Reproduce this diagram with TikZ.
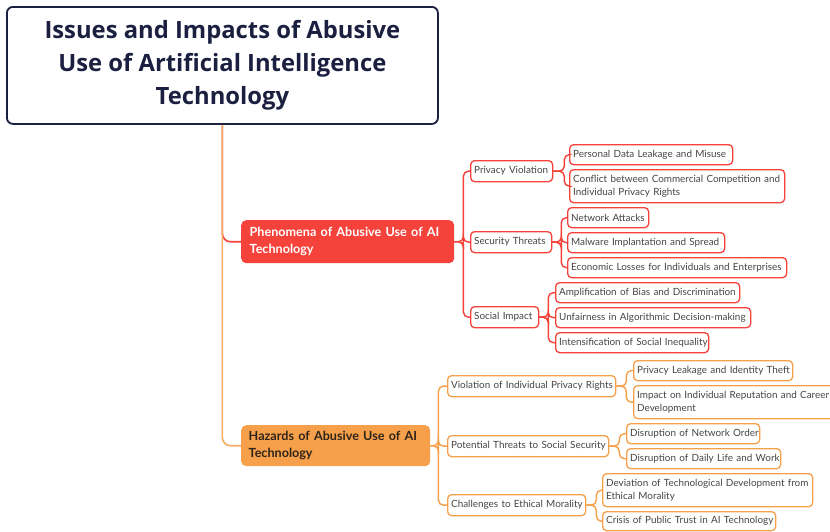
\documentclass[tikz,border=0pt]{standalone}
\usepackage{fontspec}
\setmainfont{Lato}
\newfontfamily\rootfont{Open Sans}
\definecolor{rootc}{HTML}{1C2040}
\definecolor{redc}{HTML}{F5423B}
\definecolor{orgc}{HTML}{F6A04B}
\definecolor{trunkc}{HTML}{F8AC66}
\definecolor{txtc}{HTML}{4A4444}
\definecolor{haztxt}{HTML}{2E2418}
\newcommand{\oneline}[1]{\mbox{#1}}
\tikzset{
  leaf/.style={draw, rounded corners=4pt, line width=1.3pt, fill=white, inner xsep=3.5pt, inner ysep=0pt,
    font=\fontsize{9.9}{13}\selectfont, text=txtc, align=left, anchor=north west},
  rleaf/.style={leaf, draw=redc},
  oleaf/.style={leaf, draw=orgc},
  rcon/.style={draw=redc, line width=1.4pt, rounded corners=5pt},
  ocon/.style={draw=orgc, line width=1.4pt, rounded corners=5pt},
}
\begin{document}
\begin{tikzpicture}[x=1pt,y=-1pt]
\useasboundingbox (0,0) rectangle (830,531);
\fill[white] (0,0) rectangle (830,531);
% root
\node[draw=rootc, line width=1.8pt, rounded corners=6pt, minimum width=431pt, minimum height=117pt,
  anchor=north west, align=center, font=\rootfont\bfseries\fontsize{23.8}{33}\selectfont, text=rootc, inner sep=0pt]
  (root) at (6,6) {Issues and Impacts of Abusive\\Use of Artificial Intelligence\\Technology};
% main branches
\node[fill=redc, rounded corners=5pt, minimum width=213pt, minimum height=43pt, anchor=north west,
  text width=196pt, align=left, inner xsep=8.5pt, inner ysep=0pt, text=white,
  font=\bfseries\fontsize{12.6}{17}\selectfont] (phen) at (241,220) {Phenomena of Abusive Use of AI\\Technology};
\node[fill=orgc, rounded corners=5pt, minimum width=189pt, minimum height=41pt, anchor=north west,
  text width=174pt, align=left, inner xsep=7.5pt, inner ysep=0pt, text=haztxt,
  font=\bfseries\fontsize{12.6}{17}\selectfont] (haz) at (241,425) {Hazards of Abusive Use of AI\\Technology};
\draw[draw=redc, line width=1.6pt, rounded corners=8pt] (root.south) |- (phen.west);
\draw[draw=trunkc, line width=1.6pt, rounded corners=8pt] (root.south) |- (haz.west);
% level 2 red
\node[rleaf, minimum height=21pt, text width=75pt] (pv) at (470,160) {\oneline{Privacy Violation}};
\node[rleaf, minimum height=21pt, text width=74pt] (st) at (470,231) {\oneline{Security Threats}};
\node[rleaf, minimum height=21pt, text width=61pt] (si) at (470,306) {\oneline{Social Impact}};
% level 3 red
\node[rleaf, minimum height=20pt, text width=156pt] (l1) at (569,144) {\oneline{Personal Data Leakage and Misuse}};
\node[rleaf, minimum height=33pt, text width=208pt] (l2) at (569,169) {\oneline{Conflict between Commercial Competition and}\\\oneline{Individual Privacy Rights}};
\node[rleaf, minimum height=20pt, text width=74pt] (l3) at (567,207) {\oneline{Network Attacks}};
\node[rleaf, minimum height=20pt, text width=150pt] (l4) at (567,232) {\oneline{Malware Implantation and Spread}};
\node[rleaf, minimum height=20pt, text width=212pt] (l5) at (567,257) {\oneline{Economic Losses for Individuals and Enterprises}};
\node[rleaf, minimum height=20pt, text width=177pt] (l6) at (555,282) {\oneline{Amplification of Bias and Discrimination}};
\node[rleaf, minimum height=20pt, text width=188pt] (l7) at (555,307) {\oneline{Unfairness in Algorithmic Decision-making}};
\node[rleaf, minimum height=20pt, text width=146pt] (l8) at (555,332) {\oneline{Intensification of Social Inequality}};
% level 2 orange
\node[oleaf, minimum height=21pt, text width=161pt] (vp) at (447,375) {\oneline{Violation of Individual Privacy Rights}};
\node[oleaf, minimum height=21pt, text width=154pt] (pt) at (447,435) {\oneline{Potential Threats to Social Security}};
\node[oleaf, minimum height=21pt, text width=131pt] (ce) at (447,494) {\oneline{Challenges to Ethical Morality}};
% level 3 orange
\node[oleaf, minimum height=20pt, text width=152pt] (o1) at (633,360) {\oneline{Privacy Leakage and Identity Theft}};
\node[oleaf, minimum height=33pt, text width=201pt] (o2) at (633,385) {\oneline{Impact on Individual Reputation and Career}\\\oneline{Development}};
\node[oleaf, minimum height=20pt, text width=126pt] (o3) at (626,423) {\oneline{Disruption of Network Order}};
\node[oleaf, minimum height=20pt, text width=147pt] (o4) at (626,448) {\oneline{Disruption of Daily Life and Work}};
\node[oleaf, minimum height=33pt, text width=203pt] (o5) at (602,473) {\oneline{Deviation of Technological Development from}\\\oneline{Ethical Morality}};
\node[oleaf, minimum height=19pt, text width=166pt] (o6) at (602,511) {\oneline{Crisis of Public Trust in AI Technology}};
% connectors red
\foreach \c in {pv,st,si} \draw[rcon] (phen.east) -- ++(9,0) |- (\c.west);
\foreach \c in {l1,l2} \draw[rcon] (pv.east) -- ++(11,0) |- (\c.west);
\foreach \c in {l3,l4,l5} \draw[rcon] (st.east) -- ++(9,0) |- (\c.west);
\foreach \c in {l6,l7,l8} \draw[rcon] (si.east) -- ++(9,0) |- (\c.west);
% connectors orange
\foreach \c in {vp,pt,ce} \draw[ocon] (haz.east) -- ++(8,0) |- (\c.west);
\foreach \c in {o1,o2} \draw[ocon] (vp.east) -- ++(10,0) |- (\c.west);
\foreach \c in {o3,o4} \draw[ocon] (pt.east) -- ++(10,0) |- (\c.west);
\foreach \c in {o5,o6} \draw[ocon] (ce.east) -- ++(10,0) |- (\c.west);
\end{tikzpicture}
\end{document}
